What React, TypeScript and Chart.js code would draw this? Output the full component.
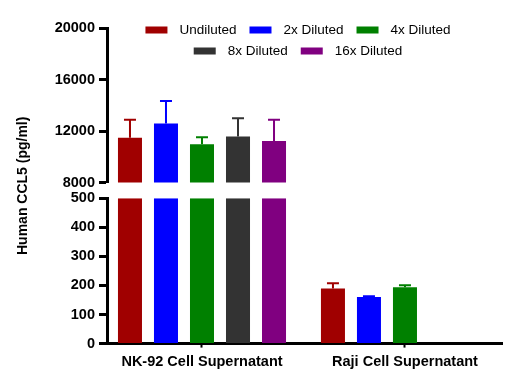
import React, { useEffect, useRef } from 'react';
import { Chart, registerables } from 'chart.js';

Chart.register(...registerables);

const categories = ['NK-92 Cell Supernatant', 'Raji Cell Supernatant'];
const seriesNames = ['Undiluted', '2x Diluted', '4x Diluted', '8x Diluted', '16x Diluted'];
const seriesColors = ['#A00000', '#0000FF', '#008000', '#333333', '#800080'];

const undiluted = [11500, 190];
const diluted2x = [12600, 160];
const diluted4x = [11000, 194];
const diluted8x = [11600, null];
const diluted16x = [11250, null];

const undilutedErr = [1400, 18];
const diluted2xErr = [1740, 3];
const diluted4xErr = [550, 7];
const diluted8xErr = [1420, null];
const diluted16xErr = [1640, null];

const lowerTicks = [0, 100, 200, 300, 400, 500];
const upperTicks = [8000, 12000, 16000, 20000];
const yTitle = 'Human CCL5 (pg/ml)';

const seriesValues = [undiluted, diluted2x, diluted4x, diluted8x, diluted16x];
const seriesErrors = [undilutedErr, diluted2xErr, diluted4xErr, diluted8xErr, diluted16xErr];

const lowerMin = lowerTicks[0];
const lowerMax = lowerTicks[lowerTicks.length - 1];
const upperMin = upperTicks[0];
const upperMax = upperTicks[upperTicks.length - 1];

const FONT = '"Liberation Sans", Arial, sans-serif';

const errorBarPlugin = {
  id: 'errorBars',
  afterDatasetsDraw(chart: any) {
    const ctx = chart.ctx;
    const yLow = chart.scales.yLow;
    const yHigh = chart.scales.yHigh;
    ctx.save();
    seriesValues.forEach((vals, s) => {
      const meta = chart.getDatasetMeta(s * 2);
      vals.forEach((v: any, j: number) => {
        const e = seriesErrors[s][j];
        if (v == null || e == null) return;
        const el = meta.data[j];
        if (!el) return;
        const scale = v > lowerMax ? yHigh : yLow;
        const x = el.x;
        const y1 = scale.getPixelForValue(v);
        const y2 = scale.getPixelForValue(v + e);
        ctx.strokeStyle = seriesColors[s];
        ctx.lineWidth = 2;
        ctx.beginPath();
        ctx.moveTo(x, y1);
        ctx.lineTo(x, y2);
        ctx.moveTo(x - 6, y2);
        ctx.lineTo(x + 6, y2);
        ctx.stroke();
      });
    });
    ctx.restore();
  },
};

const legendAndTitlePlugin = {
  id: 'customLegendTitle',
  afterDraw(chart: any) {
    const ctx = chart.ctx;
    const area = chart.chartArea;
    ctx.save();
    ctx.translate(23, (area.top + area.bottom) / 2);
    ctx.rotate(-Math.PI / 2);
    ctx.font = 'bold 14px ' + FONT;
    ctx.fillStyle = '#000';
    ctx.textAlign = 'center';
    ctx.textBaseline = 'middle';
    ctx.fillText(yTitle, 0, 0);
    ctx.restore();

    ctx.save();
    ctx.font = '13.5px ' + FONT;
    ctx.textBaseline = 'middle';
    ctx.textAlign = 'left';
    const rows = [[0, 1, 2], [3, 4]];
    const boxW = 22;
    const boxH = 7;
    const gapBT = 12;
    const gapItem = 13;
    const centerX = 298;
    const rowY = [30, 51];
    rows.forEach((row, r) => {
      const widths = row.map((i) => boxW + gapBT + ctx.measureText(seriesNames[i]).width);
      const total = widths.reduce((a, b) => a + b, 0) + gapItem * (row.length - 1);
      let x = centerX - total / 2;
      row.forEach((i, k) => {
        ctx.fillStyle = seriesColors[i];
        ctx.fillRect(x, rowY[r] - boxH / 2, boxW, boxH);
        ctx.fillStyle = '#000';
        ctx.fillText(seriesNames[i], x + boxW + gapBT, rowY[r]);
        x += widths[k] + gapItem;
      });
    });
    ctx.restore();
  },
};

export default function App() {
  const canvasRef = useRef<HTMLCanvasElement>(null);

  useEffect(() => {
    if (!canvasRef.current) return;
    Chart.defaults.font.family = FONT;

    const datasets: any[] = [];
    seriesValues.forEach((vals, s) => {
      datasets.push({
        label: seriesNames[s],
        data: vals.map((v: any, j: number) => ({ x: j, y: v == null ? null : Math.min(v, lowerMax) })),
        backgroundColor: seriesColors[s],
        borderWidth: 0,
        yAxisID: 'yLow',
        stack: seriesNames[s],
      });
      datasets.push({
        label: seriesNames[s] + ' (upper)',
        data: vals.map((v: any, j: number) => ({ x: j, y: v != null && v > upperMin ? v : null })),
        backgroundColor: seriesColors[s],
        borderWidth: 0,
        yAxisID: 'yHigh',
        stack: seriesNames[s],
        base: upperMin,
      });
    });

    const yCommon = (ticks: number[], min: number, max: number, weight: number) => ({
      type: 'linear',
      position: 'left',
      stack: 'y',
      stackWeight: weight,
      stacked: false,
      min,
      max,
      afterBuildTicks: (scale: any) => {
        scale.ticks = ticks.map((v) => ({ value: v }));
      },
      afterFit: (scale: any) => {
        scale.width = 107;
      },
      ticks: {
        color: '#000',
        font: { size: 14.5, weight: 'bold', family: FONT },
        padding: 4,
        autoSkip: false,
        callback: (v: any) => String(v),
      },
      grid: {
        display: true,
        drawOnChartArea: false,
        drawTicks: true,
        tickLength: 8,
        tickWidth: 3,
        tickColor: '#000',
        color: '#000',
      },
      border: { display: true, color: '#000', width: 3 },
    });

    const chart = new Chart(canvasRef.current, {
      type: 'bar',
      data: { datasets },
      options: {
        responsive: true,
        maintainAspectRatio: false,
        animation: false,
        categoryPercentage: 0.887,
        barPercentage: 0.667,
        layout: { padding: { left: 0, top: 28, right: 8, bottom: 7 } },
        plugins: {
          legend: { display: false },
          tooltip: { enabled: false },
        },
        scales: {
          x: {
            type: 'linear',
            position: 'bottom',
            offset: false,
            min: -0.468,
            max: 1.478,
            afterBuildTicks: (scale: any) => {
              scale.ticks = categories.map((_, i) => ({ value: i }));
            },
            ticks: {
              color: '#000',
              font: { size: 14.5, weight: 'bold', family: FONT },
              padding: 6,
              maxRotation: 0,
              autoSkip: false,
              callback: (v: any) => categories[v] ?? '',
            },
            grid: {
              display: true,
              offset: false,
              drawOnChartArea: false,
              drawTicks: true,
              tickLength: 4,
              tickWidth: 2,
              tickColor: '#000',
            },
            border: { display: true, color: '#000', width: 3 },
          },
          yLow: yCommon(lowerTicks, lowerMin, lowerMax, 145),
          yGap: {
            type: 'linear',
            position: 'left',
            stack: 'y',
            stackWeight: 15.3,
            min: 0,
            max: 1,
            afterFit: (scale: any) => {
              scale.width = 107;
            },
            ticks: { display: false },
            grid: { display: false },
            border: { display: false },
          },
          yHigh: yCommon(upperTicks, upperMin, upperMax, 154.7),
        } as any,
      },
      plugins: [errorBarPlugin, legendAndTitlePlugin],
    } as any);

    return () => chart.destroy();
  }, []);

  return (
    <div style={{ position: 'absolute', left: 0, top: 0, width: 510, height: 384, background: '#fff' }}>
      <canvas ref={canvasRef} />
    </div>
  );
}
